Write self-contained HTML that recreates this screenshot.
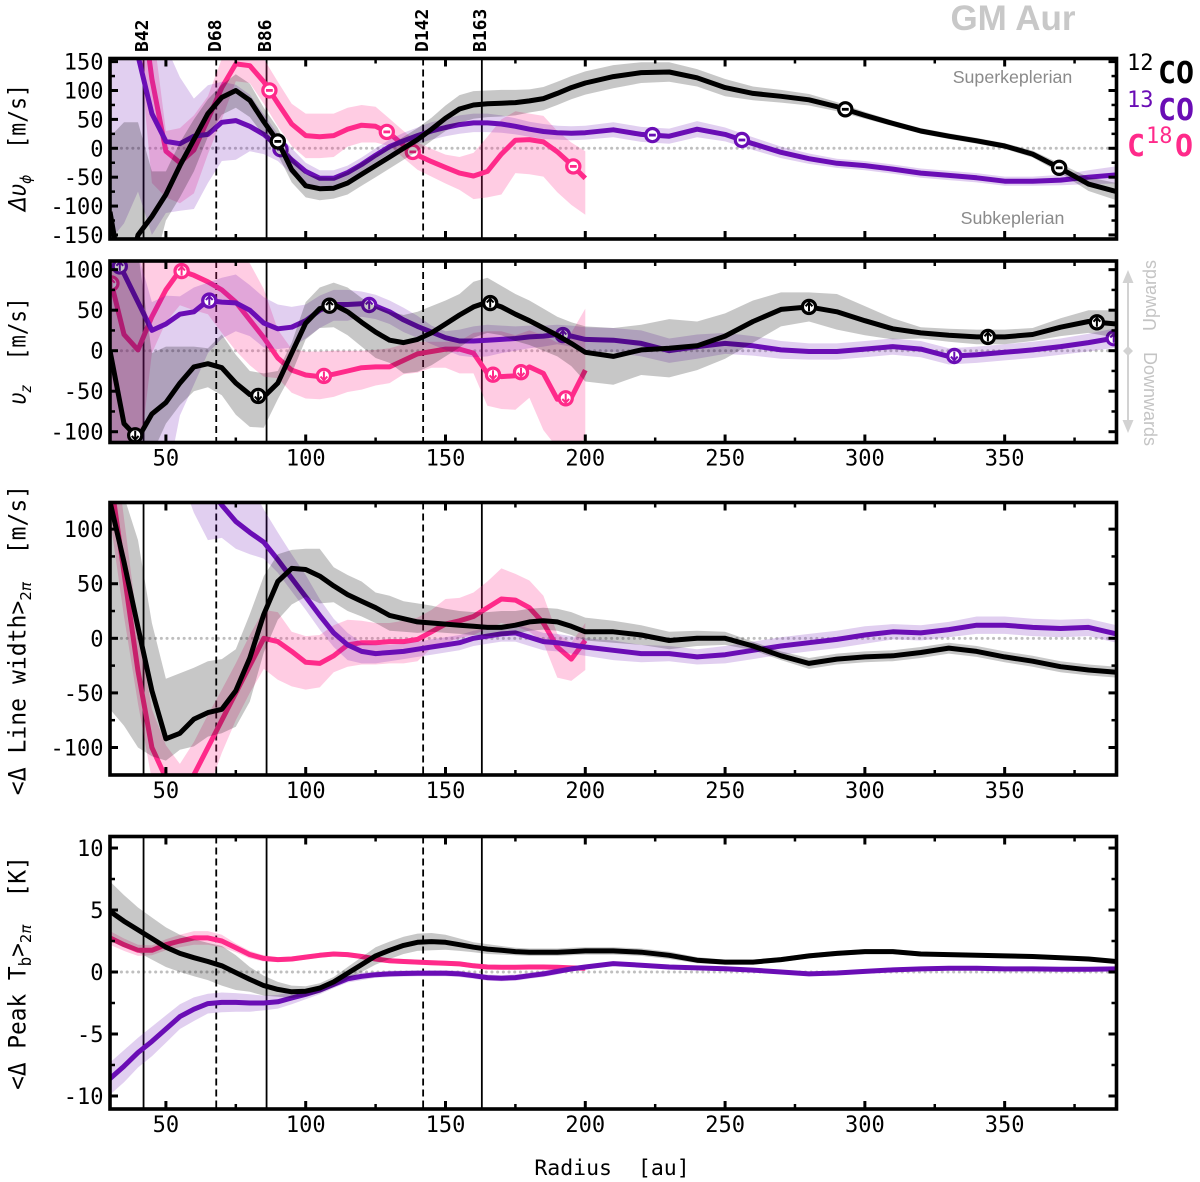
<!DOCTYPE html>
<html>
<head>
<meta charset="utf-8">
<title>GM Aur radial profiles</title>
<style>
html,body{margin:0;padding:0;background:#fff;}
svg{display:block;}
text{white-space:pre;}
.mono{font-family:"DejaVu Sans Mono","Liberation Mono",monospace;}
.sans{font-family:"Liberation Sans",sans-serif;}
</style>
</head>
<body>
<svg id="chart" xmlns="http://www.w3.org/2000/svg" width="1200" height="1182" viewBox="0 0 1200 1182">
<rect x="0" y="0" width="1200" height="1182" fill="#fff"/>
<g id="panels"></g>

<text class="sans" x="1013" y="30" font-size="35" font-weight="bold" fill="#c8c8c8" text-anchor="middle">GM Aur</text>
<text class="sans" x="1012.5" y="83" font-size="17.8" fill="#8a8a8a" text-anchor="middle">Superkeplerian</text>
<text class="sans" x="1012.5" y="224" font-size="17.8" fill="#8a8a8a" text-anchor="middle">Subkeplerian</text>

<text class="mono" font-size="18" font-weight="bold" transform="translate(148,52) rotate(-90)">B42</text>
<text class="mono" font-size="18" font-weight="bold" transform="translate(221,52) rotate(-90)">D68</text>
<text class="mono" font-size="18" font-weight="bold" transform="translate(271,52) rotate(-90)">B86</text>
<text class="mono" font-size="18" font-weight="bold" transform="translate(428,52) rotate(-90)">D142</text>
<text class="mono" font-size="18" font-weight="bold" transform="translate(486,52) rotate(-90)">B163</text>

<text class="mono" font-size="21.5" text-anchor="middle" transform="translate(25.5,147.5) rotate(-90) scale(1,1.1)"><tspan font-family="DejaVu Sans" font-style="italic">Δυ</tspan><tspan font-family="DejaVu Sans" font-style="italic" font-size="14" dy="5">ϕ</tspan><tspan dy="-5">  [m/s]</tspan></text>
<text class="mono" font-size="21.5" text-anchor="middle" transform="translate(25.5,351) rotate(-90) scale(0.97,1.1)"><tspan font-family="DejaVu Sans" font-style="italic">υ</tspan><tspan font-family="DejaVu Sans" font-style="italic" font-size="14" dy="5">z</tspan><tspan dy="-5">  [m/s]</tspan></text>
<text class="mono" font-size="21.5" text-anchor="middle" transform="translate(25.5,640) rotate(-90) scale(1.074,1.1)">&lt;Δ Line width&gt;<tspan font-family="DejaVu Sans" font-size="14" dy="5">2<tspan font-style="italic">π</tspan></tspan><tspan dy="-5">  [m/s]</tspan></text>
<text class="mono" font-size="21.5" text-anchor="middle" transform="translate(25.5,973) rotate(-90) scale(1.06,1.1)">&lt;Δ Peak T<tspan font-size="15" dy="5">b</tspan><tspan dy="-5">&gt;</tspan><tspan font-family="DejaVu Sans" font-size="14" dy="5">2<tspan font-style="italic">π</tspan></tspan><tspan dy="-5">  [K]</tspan></text>
<text class="mono" font-size="21.5" x="612" y="1175" text-anchor="middle">Radius  [au]</text>

<g class="mono">
  <text y="83" fill="#000"><tspan x="1127" y="70" font-size="22">12</tspan><tspan x="1158" y="83" font-size="30" font-weight="bold">CO</tspan></text>
  <text y="120" fill="#6a0db5"><tspan x="1127" y="107" font-size="22">13</tspan><tspan x="1158" y="120" font-size="30" font-weight="bold">CO</tspan></text>
  <text y="156" fill="#ff2a8a"><tspan x="1127" y="156" font-size="30" font-weight="bold">C</tspan><tspan x="1146" y="143" font-size="22">18</tspan><tspan x="1175" y="156" font-size="30" font-weight="bold">O</tspan></text>
</g>

<g>
  <line x1="1128" y1="280" x2="1128" y2="425" stroke="#d2d2d2" stroke-width="2"/>
  <polygon points="1128,270 1122.5,283 1133.5,283" fill="#d2d2d2"/>
  <polygon points="1128,433 1122.5,420 1133.5,420" fill="#d2d2d2"/>
  <polygon points="1128,346 1133,351 1128,356 1123,351" fill="#d2d2d2"/>
  <text class="sans" font-size="18" fill="#c4c4c4" transform="translate(1156,331) rotate(-90)">Upwards</text>
  <text class="sans" font-size="18" fill="#c4c4c4" transform="translate(1144,352) rotate(90)">Downwards</text>
</g>
</svg>

<script>
/* ---------- shared axis data ---------- */
const radii = [30,35,40,45,50,55,60,65,70,75,
  80,85,90,95,100,105,110,115,120,125,
  130,135,140,145,150,155,160,165,170,175,
  180,185,190,195,200,
  210,220,230,240,250,260,270,280,290,300,310,320,330,340,350,360,370,380,390];
const xMajorTicks = [50,100,150,200,250,300,350];
const xMinorTicks = [75,125,175,225,275,325,375];
const xTickLabels = ["50","100","150","200","250","300","350"];
const gapNames = ["B42","D68","B86","D142","B163"];
const gapRadii = [42,68,86,142,163];
const gapDashed = [false,true,false,true,false];

/* ---------- panel 1: delta v_phi ---------- */
const vphiMajorTicks = [-150,-100,-50,0,50,100,150];
const vphiMinorTicks = [-125,-75,-25,25,75,125];
const vphiTickLabels = ["-150","-100","-50","0","50","100","150"];
const co12Vphi = [-110,-250,-150,-118,-80,-30,15,60,88,100,
  83,46,12,-37,-65,-70,-69,-60,-45,-30,
  -15,0,15,33,52,68,75,77,78,79,
  82,86,95,105,113,
  124,131,132,122,105,95,90,84,72,57,43,30,21,13,4,-10,-35,-62,-75];
const co12VphiErrUp = [130,295,195,78,40,40,35,25,22,28,
  29,24,23,22,20,20,18,20,20,20,
  20,20,20,20,22,24,24,23,23,22,
  20,20,20,20,20,
  20,18,17,15,15,12,11,10,8,6,5,5,5,5,5,6,8,12,15];
const co12VphiErrDown = [100,100,100,100,45,55,55,40,30,30];
const co12VphiMarkers = [90,293,369.5];
const co13Vphi = [300,220,160,60,12,8,21,24,45,48,
  38,24,3,-20,-40,-52,-52,-42,-28,-12,
  3,13,22,30,36,41,44,44,42,38,
  33,29,27,26,27,
  32,24,21,33,24,8,-7,-18,-26,-30,-36,-43,-47,-51,-57,-57,-55,-50,-46];
const co13VphiErrUp = [100,100,100,150,165,115,65,85,70,62,
  55,35,22,20,15,14,14,12,12,12,
  12,14,14,15,15,16,16,16,15,14,
  13,13,12,12,12,
  13,13,13,14,12,11,10,9,8,8,8,8,8,8,8,8,9,12,15];
const co13VphiErrDown = [460,350,235,210,124,116,126,84,67,68,
  43,34,25,25,25,16,13,12,12,12];
const co13VphiMarkers = [91,224,256];
const c18oVphi = [400,350,300,120,-5,-25,-3,50,105,146,
  143,115,78,42,22,20,22,33,40,38,
  26,5,-12,-23,-33,-43,-48,-40,-10,14,
  15,11,-6,-28,-52];
const c18oVphiErrUp = [100,100,100,100,35,60,60,40,50,40,
  50,40,37,35,38,40,38,37,35,34,
  25,25,22,22,22,28,40,60,60,50,
  45,45,36,38,47];
const c18oVphiErrDown = [100,100,100,180,80,70,75,60,55,30,
  30,38,40,38,39,37,37,30,30,28,
  22,22,25,26,28,29,40,45,70,57,
  60,60,70,70,63];
const c18oVphiMarkers = [87,129,138.3,195.7];

/* ---------- panel 2: v_z ---------- */
const vzMajorTicks = [-100,-50,0,50,100];
const vzMinorTicks = [-75,-25,25,75];
const vzTickLabels = ["-100","-50","0","50","100"];
const co12Vz = [0,-90,-108,-78,-64,-40,-20,-16,-21,-40,
  -54,-57,-40,-3,34,52,57,48,35,23,
  13,10,14,22,33,44,54,60,54,45,
  37,28,19,9,-2,
  -7,1,3,6,18,36,51,54,48,37,27,22,19,17,17,20,29,36,33];
const co12VzErrUp = [112,215,230,75,69,45,25,19,41,35,
  29,29,15,13,26,26,27,30,30,32,
  35,34,34,33,29,26,31,30,26,25,
  25,24,23,26,32,
  35,31,36,30,28,26,21,18,22,18,13,7,8,9,9,8,11,14,17];
const co12VzErrDown = [200,200,200,50,26,27,30,29,34,39,
  40,38,20,25,20,24,28,29,30,32,
  28,38,40,40,40,40,38,38,35,33,
  30,28,26,28,36];
const co12VzMarkers = [39,83,108.5,166,280,344,383];
const co13Vz = [125,95,60,25,33,45,48,62,60,59,
  50,34,27,29,37,50,57,57,58,55,
  48,38,30,23,16,12,12,13,14,15,
  17,18,20,18,14,
  13,9,0,5,9,6,1,-1,-1,2,5,2,-7,-5,-2,1,5,10,16];
const co13VzErrUp = [100,40,60,35,35,22,30,22,30,35,
  31,32,30,25,20,18,18,18,15,14,
  14,15,13,8,8,14,18,19,17,15,
  14,13,12,13,15,
  15,16,15,15,13,12,11,10,10,10,10,10,10,10,10,10,10,11,12];
const co13VzErrDown = [300,300,200,180,200,125,90,65,45,35,
  32,30,25,25,22,22,20,20,16,16,
  15,15,14,15,15,18,20,20,17,15,
  14,13,12,13,15];
const co13VzMarkers = [33.5,65.5,122.7,192,332,389];
const c18oVz = [90,20,1,42,75,99,93,85,75,60,
  38,16,-9,-24,-30,-32,-29,-25,-21,-20,
  -20,-12,-4,-1,2,2,-3,-28,-32,-31,
  -20,-28,-60,-58,-24];
const c18oVzErrUp = [60,100,120,80,50,30,30,30,40,55,
  70,60,35,26,29,31,29,25,21,21,
  23,20,15,12,9,10,25,52,56,50,
  45,47,70,80,76];
const c18oVzErrDown = [250,180,150,45,40,43,43,40,53,60,
  56,48,25,28,29,28,28,26,27,23,
  20,17,23,20,23,30,25,40,40,42,
  38,70,60,60,85];
const c18oVzMarkers = [30.5,55.6,106.5,167,177,193];

/* ---------- panel 3: line width ---------- */
const widthMajorTicks = [-100,-50,0,50,100];
const widthMinorTicks = [-75,-25,25,75];
const widthTickLabels = ["-100","-50","0","50","100"];
const co12Width = [125,70,10,-48,-92,-87,-74,-68,-65,-48,
  -18,22,52,64,63,57,48,40,34,28,
  21,18,15,14,13,12,11,10,10,12,
  15,16,15,11,6,
  6,3,-2,0,0,-7,-16,-23,-19,-17,-16,-13,-9,-12,-17,-21,-26,-29,-31];
const co12WidthErrUp = [30,60,80,62,55,55,47,47,46,38,
  40,35,25,17,19,25,17,18,18,14,
  18,16,17,16,14,13,13,14,15,13,
  12,12,12,13,13,
  10,9,8,7,6,4,4,5,5,5,5,5,5,5,5,5,5,5,5];
const co12WidthErrDown = [190,150,110,60,20,15,25,22,22,33,
  40,35,35,33,25,25,15,15,14,14,
  14,12,10,8,8,8,8,8,8,8,
  8,8,8,8,8];
const co13Width = [300,300,300,300,250,200,165,140,122,107,
  97,88,72,55,38,21,5,-6,-12,-14,
  -13,-12,-10,-8,-6,-4,0,2,4,5,
  1,-3,-4,-6,-8,
  -11,-14,-14,-17,-15,-11,-7,-4,-1,3,6,5,8,12,12,10,9,10,4];
const co13WidthErrUp = [50,50,50,50,50,50,50,50,50,55,
  45,30,25,22,20,15,13,11,8,8,
  7,7,7,7,7,7,7,7,7,8,
  8,8,8,8,8,
  9,8,7,7,8,8,8,8,8,8,7,7,7,8,8,8,8,8,8];
const co13WidthErrDown = [50,50,50,50,50,50,50,50,30,25,
  20,15,12,12,12,13,13,14,11,9,
  8];
const c18oWidth = [150,60,-30,-100,-128,-145,-125,-100,-75,-50,
  -25,0,-3,-12,-22,-23,-16,-6,-4,-4,
  -3,-3,-1,6,13,16,20,28,36,35,
  28,14,-8,-19,-2];
const c18oWidthErrUp = [60,50,40,35,30,30,30,30,28,27,
  28,26,27,18,24,26,28,23,20,18,
  17,19,20,20,23,21,22,24,28,24,
  25,25,12,15,16];
const c18oWidthErrDown = [40,40,30,30,25,30,40,40,30,25,
  25,28,35,32,25,22,15,20,20,20,
  20,20,20,15,17,16,17,19,22,24,
  22,18,28,20,27];

/* ---------- panel 4: peak brightness temperature ---------- */
const tbMajorTicks = [-10,-5,0,5,10];
const tbMinorTicks = [-7.5,-2.5,2.5,7.5];
const tbTickLabels = ["-10","-5","0","5","10"];
const co12Tb = [4.9,4.1,3.4,2.7,2,1.5,1.15,.85,.5,-.05,
  -.6,-1.1,-1.4,-1.6,-1.55,-1.3,-.8,-.1,.6,1.3,
  1.75,2.15,2.4,2.45,2.4,2.2,2,1.85,1.75,1.65,
  1.6,1.6,1.6,1.65,1.7,
  1.7,1.6,1.35,.95,.8,.8,1,1.3,1.5,1.65,1.65,1.45,1.4,1.35,1.3,1.25,1.15,1.05,.85];
const co12TbErr = [2.4,2.1,1.8,1.7,1.6,1.5,1.5,1.5,1.6,1.4,
  1,.8,.6,.5,.4,.4,.4,.5,.6,.7,
  .7,.7,.7,.7,.6,.5,.4,.4,.35,.3,
  .3,.3,.3,.3,.3,
  .3,.3,.3,.25,.2,.2,.2,.2,.2,.2,.2,.2,.15,.15,.15,.15,.15,.15,.15];
const co13Tb = [-8.6,-7.6,-6.5,-5.6,-4.6,-3.6,-3,-2.55,-2.45,-2.45,
  -2.5,-2.5,-2.4,-2.1,-1.8,-1.45,-1,-.55,-.35,-.22,
  -.15,-.12,-.1,-.1,-.1,-.15,-.3,-.45,-.5,-.45,
  -.3,-.15,.05,.25,.4,
  .68,.55,.4,.33,.27,.15,0,-.15,-.08,.05,.17,.25,.3,.3,.25,.25,.23,.22,.25];
const co13TbErr = [1.3,1.3,1.2,1.2,1.1,1,.95,.8,.8,.75,
  .7,.6,.55,.5,.4,.35,.3,.3,.3,.25,
  .25,.25,.25,.25,.25,.25,.25,.25,.25,.25,
  .25,.25,.25,.2,.2,
  .15,.15,.15,.15,.15,.15,.15,.15,.15,.15,.15,.15,.15,.15,.15,.15,.15,.15,.15];
const c18oTb = [2.75,2.2,1.75,1.75,2.2,2.5,2.75,2.75,2.5,1.95,
  1.4,1.1,1,1.05,1.2,1.35,1.45,1.4,1.25,1.05,
  .9,.85,.8,.75,.7,.65,.5,.4,.38,.38,
  .4,.4,.38,.33,.3];
const c18oTbErr = [.55,.5,.45,.4,.45,.5,.55,.55,.5,.35,
  .3,.25,.2,.2,.2,.2,.2,.2,.2,.2,
  .2,.2,.2,.2,.2,.2,.2,.15,.15,.15,
  .15,.15,.15,.15,.15];

/* ---------- rendering ---------- */
const SVGNS = 'http://www.w3.org/2000/svg';
const speciesStyle = {
  c18o: {color:'#ff2a8a', band:0.24},
  co13: {color:'#6a0db5', band:0.2},
  co12: {color:'#000000', band:0.22}
};
const xDomain = [30, 390];
const xRange = [110, 1116.5];
function xScale(r){ return xRange[0] + (r - xDomain[0]) * (xRange[1] - xRange[0]) / (xDomain[1] - xDomain[0]); }
function make(tag, parent){
  const el = document.createElementNS(SVGNS, tag);
  parent.appendChild(el);
  return el;
}
function interpolate(xs, ys, x){
  const n = ys.length;
  if (x <= xs[0]) return ys[0];
  for (let i = 1; i < n; i++) {
    if (x <= xs[i]) {
      const t = (x - xs[i-1]) / (xs[i] - xs[i-1]);
      return ys[i-1] + t * (ys[i] - ys[i-1]);
    }
  }
  return ys[n-1];
}
function drawPanel(root, cfg, index){
  const top = cfg.box[0], bottom = cfg.box[1];
  const yScale = function(v){ return top + (cfg.yDomain[1] - v) * (bottom - top) / (cfg.yDomain[1] - cfg.yDomain[0]); };
  const group = make('g', root);
  
  

  const clip = make('clipPath', group);
  clip.setAttribute('id', 'clip' + index);
  const clipRect = make('rect', clip);
  clipRect.setAttribute('x', xRange[0]);
  clipRect.setAttribute('y', top);
  clipRect.setAttribute('width', xRange[1] - xRange[0]);
  clipRect.setAttribute('height', bottom - top);

  const plot = make('g', group);
  plot.setAttribute('clip-path', 'url(#clip' + index + ')');
  
  

  const zero = make('line', plot);
  
  
  zero.setAttribute('x1', xRange[0]);
  zero.setAttribute('x2', xRange[1]);
  zero.setAttribute('y1', yScale(0));
  zero.setAttribute('y2', yScale(0));
  zero.setAttribute('stroke', '#bfbfbf');
  zero.setAttribute('stroke-width', '3');
  zero.setAttribute('stroke-linecap', 'round');
  zero.setAttribute('stroke-dasharray', '0.1 5.6');

  gapRadii.forEach(function(r, i){
    const gap = make('line', plot);
    
    
    gap.setAttribute('x1', xScale(r));
    gap.setAttribute('x2', xScale(r));
    gap.setAttribute('y1', top);
    gap.setAttribute('y2', bottom);
    gap.setAttribute('stroke', '#000');
    gap.setAttribute('stroke-width', '1.8');
    if (gapDashed[i]) gap.setAttribute('stroke-dasharray', '7 4');
  });

  cfg.series.forEach(function(s){
    const style = speciesStyle[s.key];
    const n = s.values.length;
    const upper = [], lower = [], line = [];
    for (let i = 0; i < n; i++) {
      const x = xScale(radii[i]).toFixed(1);
      const up = s.errUp[i];
      const down = (s.errDown && s.errDown[i] !== undefined) ? s.errDown[i] : up;
      upper.push(x + ',' + yScale(s.values[i] + up).toFixed(1));
      lower.push(x + ',' + yScale(s.values[i] - down).toFixed(1));
      line.push(x + ',' + yScale(s.values[i]).toFixed(1));
    }
    const band = make('polygon', plot);
    
    
    band.setAttribute('points', upper.concat(lower.reverse()).join(' '));
    band.setAttribute('fill', style.color);
    band.setAttribute('fill-opacity', style.band);

    const path = make('polyline', plot);
    
    
    path.setAttribute('points', line.join(' '));
    path.setAttribute('fill', 'none');
    path.setAttribute('stroke', style.color);
    path.setAttribute('stroke-width', '5');
    path.setAttribute('stroke-linejoin', 'round');

    (s.markers || []).forEach(function(r){
      const v = interpolate(radii, s.values, r);
      const cx = xScale(r), cy = yScale(v);
      const mark = make('g', plot);
      
      
      mark.setAttribute('transform', 'translate(' + cx.toFixed(1) + ',' + cy.toFixed(1) + ')');
      const c = make('circle', mark);
      c.setAttribute('r', '6.6');
      c.setAttribute('fill', '#fff');
      c.setAttribute('stroke', style.color);
      c.setAttribute('stroke-width', '3.2');
      const glyph = make('path', mark);
      if (cfg.arrows) {
        const dir = v >= 0 ? -1 : 1;
        glyph.setAttribute('d', 'M0,' + (-4.5 * dir) + 'L0,' + (4 * dir) + 'M-3.4,' + (0.6 * dir) + 'L0,' + (4.4 * dir) + 'L3.4,' + (0.6 * dir));
        glyph.setAttribute('fill', 'none');
        glyph.setAttribute('stroke-width', '2');
      } else {
        glyph.setAttribute('d', 'M-3.4,0L3.4,0');
        glyph.setAttribute('stroke-width', '2.8');
      }
      glyph.setAttribute('stroke', style.color);
    });
  });

  function tick(x1, y1, x2, y2, width, name){
    const t = make('line', group);
    
    
    t.setAttribute('x1', x1);
    t.setAttribute('y1', y1);
    t.setAttribute('x2', x2);
    t.setAttribute('y2', y2);
    t.setAttribute('stroke', '#000');
    t.setAttribute('stroke-width', width);
  }
  xMajorTicks.forEach(function(r){
    tick(xScale(r), bottom, xScale(r), bottom - 8, 3, 'x-major-tick');
    tick(xScale(r), top, xScale(r), top + 8, 3, 'x-major-tick');
  });
  xMinorTicks.forEach(function(r){
    tick(xScale(r), bottom, xScale(r), bottom - 5, 2.5, 'x-minor-tick');
    tick(xScale(r), top, xScale(r), top + 5, 2.5, 'x-minor-tick');
  });
  cfg.yMajor.forEach(function(v, i){
    tick(xRange[0], yScale(v), xRange[0] + 8, yScale(v), 3, 'y-major-tick');
    tick(xRange[1], yScale(v), xRange[1] - 8, yScale(v), 3, 'y-major-tick');
    const label = make('text', group);
    
    
    label.setAttribute('class', 'mono');
    label.setAttribute('x', '103.5');
    label.setAttribute('y', yScale(v) + 8);
    label.setAttribute('font-size', '22');
    label.setAttribute('text-anchor', 'end');
    label.textContent = cfg.yLabels[i];
  });
  cfg.yMinor.forEach(function(v){
    tick(xRange[0], yScale(v), xRange[0] + 5, yScale(v), 2.5, 'y-minor-tick');
    tick(xRange[1], yScale(v), xRange[1] - 5, yScale(v), 2.5, 'y-minor-tick');
  });
  if (cfg.xLabels) {
    xMajorTicks.forEach(function(r, i){
      const label = make('text', group);
      
      
      label.setAttribute('class', 'mono');
      label.setAttribute('x', xScale(r));
      label.setAttribute('y', bottom + 23);
      label.setAttribute('font-size', '22');
      label.setAttribute('text-anchor', 'middle');
      label.textContent = xTickLabels[i];
    });
  }
  const frame = make('rect', group);
  
  
  frame.setAttribute('x', xRange[0]);
  frame.setAttribute('y', top);
  frame.setAttribute('width', xRange[1] - xRange[0]);
  frame.setAttribute('height', bottom - top);
  frame.setAttribute('fill', 'none');
  frame.setAttribute('stroke', '#000');
  frame.setAttribute('stroke-width', '3.6');
}

const panelConfigs = [
  {name:'vphi', box:[58.5,239], yDomain:[-157,155.4], yMajor:vphiMajorTicks, yMinor:vphiMinorTicks, yLabels:vphiTickLabels, xLabels:false, arrows:false,
   series:[
    {key:'c18o', values:c18oVphi, errUp:c18oVphiErrUp, errDown:c18oVphiErrDown, markers:c18oVphiMarkers},
    {key:'co13', values:co13Vphi, errUp:co13VphiErrUp, errDown:co13VphiErrDown, markers:co13VphiMarkers},
    {key:'co12', values:co12Vphi, errUp:co12VphiErrUp, errDown:co12VphiErrDown, markers:co12VphiMarkers}]},
  {name:'vz', box:[261,442.5], yDomain:[-113.3,110.7], yMajor:vzMajorTicks, yMinor:vzMinorTicks, yLabels:vzTickLabels, xLabels:true, arrows:true,
   series:[
    {key:'c18o', values:c18oVz, errUp:c18oVzErrUp, errDown:c18oVzErrDown, markers:c18oVzMarkers},
    {key:'co13', values:co13Vz, errUp:co13VzErrUp, errDown:co13VzErrDown, markers:co13VzMarkers},
    {key:'co12', values:co12Vz, errUp:co12VzErrUp, errDown:co12VzErrDown, markers:co12VzMarkers}]},
  {name:'line-width', box:[502.5,775], yDomain:[-125.2,124.4], yMajor:widthMajorTicks, yMinor:widthMinorTicks, yLabels:widthTickLabels, xLabels:true, arrows:false,
   series:[
    {key:'c18o', values:c18oWidth, errUp:c18oWidthErrUp, errDown:c18oWidthErrDown},
    {key:'co13', values:co13Width, errUp:co13WidthErrUp, errDown:co13WidthErrDown},
    {key:'co12', values:co12Width, errUp:co12WidthErrUp, errDown:co12WidthErrDown}]},
  {name:'peak-tb', box:[836.5,1109], yDomain:[-11.05,10.93], yMajor:tbMajorTicks, yMinor:tbMinorTicks, yLabels:tbTickLabels, xLabels:true, arrows:false,
   series:[
    {key:'c18o', values:c18oTb, errUp:c18oTbErr},
    {key:'co13', values:co13Tb, errUp:co13TbErr},
    {key:'co12', values:co12Tb, errUp:co12TbErr}]}
];
const panelsRoot = document.getElementById('panels');
panelConfigs.forEach(function(cfg, i){ drawPanel(panelsRoot, cfg, i); });
</script>
</body>
</html>
